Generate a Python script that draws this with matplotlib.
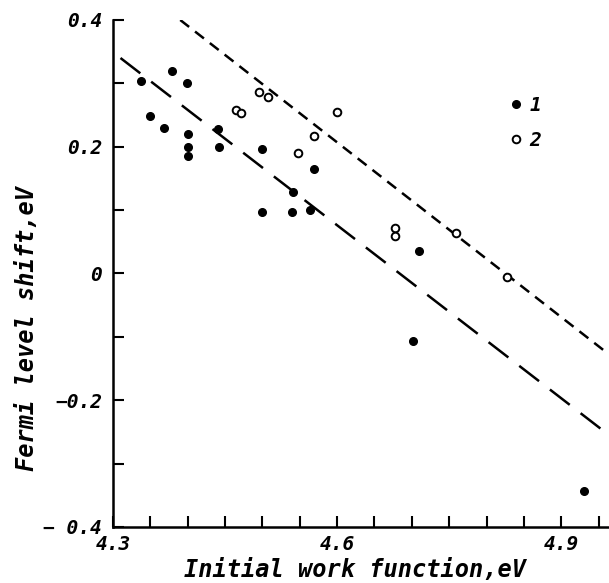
import numpy as np
import matplotlib.pyplot as plt
from matplotlib.ticker import FixedLocator, MultipleLocator

# serie 1: puntos llenos
x1 = [4.338, 4.379, 4.399, 4.350, 4.368, 4.400, 4.400, 4.400, 4.441, 4.442,
      4.499, 4.541, 4.569, 4.499, 4.540, 4.564, 4.710, 4.702, 4.930]
y1 = [0.304, 0.320, 0.301, 0.248, 0.230, 0.220, 0.200, 0.186, 0.228, 0.200,
      0.197, 0.129, 0.165, 0.097, 0.097, 0.100, 0.036, -0.106, -0.344]

# serie 2: puntos huecos
x2 = [4.465, 4.471, 4.496, 4.507, 4.548, 4.569, 4.600, 4.678, 4.678, 4.759, 4.828]
y2 = [0.258, 0.253, 0.287, 0.279, 0.190, 0.217, 0.255, 0.071, 0.059, 0.064, -0.006]

# rectas de ajuste
fit1_x = [4.31, 4.965]
fit1_y = [0.340, -0.256]
fit2_x = [4.39, 4.96]
fit2_y = [0.400, -0.124]

xticks = [4.3, 4.6, 4.9]
xticklabels = ['4.3', '4.6', '4.9']
yticks = [-0.4, -0.2, 0, 0.2, 0.4]
yticklabels = ['\u2212 0.4', '\u22120.2', '0', '0.2', '0.4']

font = dict(family='DejaVu Sans Mono', style='italic', weight='bold')

fig = plt.figure(figsize=(6.09, 5.83), dpi=100)
ax = fig.add_axes([0.1856, 0.0961, 0.8144, 0.8696])

ax.plot(fit1_x, fit1_y, c='black', lw=1.8, ls=(0, (10, 5.5)))
ax.plot(fit2_x, fit2_y, c='black', lw=1.8, ls=(0, (4.5, 3)))
ax.plot(x1, y1, 'o', c='black', ms=5.5, label='1')
ax.plot(x2, y2, 'o', mfc='white', mec='black', mew=1.4, ms=5.5, label='2')

ax.set_xlim(4.3, 4.964)
ax.set_ylim(-0.4, 0.4)

for s in ['top', 'right']:
    ax.spines[s].set_visible(False)
for s in ['left', 'bottom']:
    ax.spines[s].set_linewidth(1.8)

ax.xaxis.set_major_locator(FixedLocator(xticks))
ax.set_xticklabels(xticklabels, fontdict=dict(size=14, **font))
ax.xaxis.set_minor_locator(MultipleLocator(0.05))
ax.yaxis.set_major_locator(FixedLocator(yticks))
ax.set_yticklabels(yticklabels, fontdict=dict(size=14, **font))
ax.yaxis.set_minor_locator(MultipleLocator(0.1))
ax.tick_params(which='both', direction='in', length=8, width=1.5)
ax.tick_params(axis='x', pad=6)
ax.tick_params(axis='y', pad=8)

ax.set_xlabel('Initial work function,eV', fontsize=17, **font)
ax.xaxis.set_label_coords(0.488, -0.085)
ax.xaxis.label.set_va('center')
ax.set_ylabel('Fermi level shift,eV', fontsize=17, **font)
ax.yaxis.set_label_coords(-0.173, 0.392)
ax.yaxis.label.set_va('center')

ax.legend(loc='upper left', bbox_to_anchor=(0.80, 0.85), frameon=False,
          handlelength=0.6, handletextpad=0.4, labelspacing=0.8,
          borderpad=0, borderaxespad=0, prop=dict(size=14, **font))

fig.savefig('out.png', dpi=100)
